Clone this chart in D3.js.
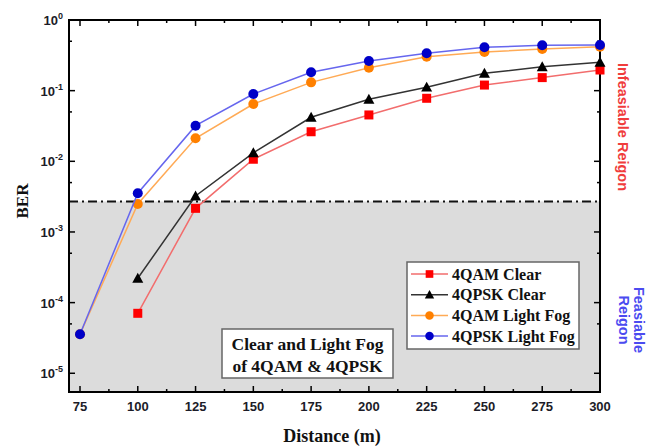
<!DOCTYPE html>
<html>
<head>
<meta charset="UTF-8">
<script src="https://cdn.jsdelivr.net/npm/d3@7"></script>
<style>
  body { margin: 0; background: #fff; }
  .tick-lab { font-family: "Liberation Sans", Arial, sans-serif; font-weight: bold; fill: #1c1c28; }
  .serif { font-family: "Liberation Serif", "Times New Roman", serif; font-weight: bold; fill: #111; }
</style>
</head>
<body>
<svg id="chart" width="646" height="448"></svg>
<script>
const distance = [75, 100, 125, 150, 175, 200, 225, 250, 275, 300];
const qamClear   = [null, 7.06e-5, 2.16e-3, 1.07e-2, 2.62e-2, 4.53e-2, 7.8e-2, 0.12, 0.153, 0.196];
const qpskClear  = [null, 2.21e-4, 3.23e-3, 1.32e-2, 4.2e-2, 7.55e-2, 0.112, 0.176, 0.218, 0.252];
const qamFog     = [3.56e-5, 2.49e-3, 2.12e-2, 6.47e-2, 0.131, 0.211, 0.303, 0.352, 0.389, 0.419];
const qpskFog    = [3.56e-5, 3.53e-3, 3.19e-2, 8.97e-2, 0.182, 0.263, 0.338, 0.411, 0.438, 0.443];
const threshold = 2.7e-3;
const yExponents = [0, -1, -2, -3, -4, -5];

const series = [
  { name: "4QAM Clear",     values: qamClear,  line: "#f26d6d", fill: "#ff0000", shape: "square" },
  { name: "4QPSK Clear",    values: qpskClear, line: "#333333", fill: "#000000", shape: "triangle" },
  { name: "4QAM Light Fog", values: qamFog,    line: "#ffaa55", fill: "#ff8000", shape: "circle" },
  { name: "4QPSK Light Fog",values: qpskFog,   line: "#6666ee", fill: "#0000c8", shape: "circle" }
];

const svg = d3.select("#chart");
const L = 69, R = 600, T = 20, B = 392;

const x = d3.scaleLinear().domain([70.24, 300]).range([L, R]);
const y = d3.scaleLog().domain([Math.pow(10, -5.265), 1]).range([B, T]);

// feasible region shading
svg.append("rect").attr("x", L).attr("y", y(threshold)).attr("width", R - L)
  .attr("height", B - y(threshold)).attr("fill", "#dcdcdc");

// threshold line
svg.append("line").attr("x1", L).attr("x2", R).attr("y1", y(threshold)).attr("y2", y(threshold))
  .attr("stroke", "#111").attr("stroke-width", 2).attr("stroke-dasharray", "9,4,2,4");

// ticks
const g = svg.append("g");
const xMinor = distance.slice(0, -1).map(d => d + 12.5);
distance.forEach(d => {
  g.append("line").attr("x1", x(d)).attr("x2", x(d)).attr("y1", B).attr("y2", B - 6).attr("stroke", "#000").attr("stroke-width", 1.5);
  g.append("line").attr("x1", x(d)).attr("x2", x(d)).attr("y1", T).attr("y2", T + 6).attr("stroke", "#000").attr("stroke-width", 1.5);
  g.append("text").attr("class", "tick-lab").attr("x", x(d)).attr("y", 411)
    .attr("text-anchor", "middle").attr("font-size", 13).text(d);
});
xMinor.forEach(d => {
  g.append("line").attr("x1", x(d)).attr("x2", x(d)).attr("y1", B).attr("y2", B - 3).attr("stroke", "#000").attr("stroke-width", 1.5);
  g.append("line").attr("x1", x(d)).attr("x2", x(d)).attr("y1", T).attr("y2", T + 3).attr("stroke", "#000").attr("stroke-width", 1.5);
});
yExponents.forEach(e => {
  const v = Math.pow(10, e);
  g.append("line").attr("x1", L).attr("x2", L + 6).attr("y1", y(v)).attr("y2", y(v)).attr("stroke", "#000").attr("stroke-width", 1.5);
  g.append("line").attr("x1", R).attr("x2", R - 6).attr("y1", y(v)).attr("y2", y(v)).attr("stroke", "#000").attr("stroke-width", 1.5);
  const m = v * 0.5;
  if (y(m) < B) {
    g.append("line").attr("x1", L).attr("x2", L + 3).attr("y1", y(m)).attr("y2", y(m)).attr("stroke", "#000").attr("stroke-width", 1.5);
    g.append("line").attr("x1", R).attr("x2", R - 3).attr("y1", y(m)).attr("y2", y(m)).attr("stroke", "#000").attr("stroke-width", 1.5);
  }
  const t = g.append("text").attr("class", "tick-lab").attr("x", 63).attr("y", y(v) + 5)
    .attr("text-anchor", "end").attr("font-size", 13);
  t.append("tspan").text("10");
  t.append("tspan").attr("dy", -6).attr("font-size", 9).text(e === 0 ? "0" : "-" + Math.abs(e));
});

// frame
svg.append("rect").attr("x", L).attr("y", T).attr("width", R - L).attr("height", B - T)
  .attr("fill", "none").attr("stroke", "#000").attr("stroke-width", 2);

// lines and markers
const line = d3.line().defined(d => d[1] != null).x(d => x(d[0])).y(d => y(d[1]));
function marker(sel, s, cx, cy, scale) {
  const k = scale || 1;
  if (s.shape === "square") {
    sel.append("rect").attr("x", cx - 4.5 * k).attr("y", cy - 4.5 * k).attr("width", 9 * k).attr("height", 9 * k).attr("fill", s.fill);
  } else if (s.shape === "triangle") {
    const h = 5.5 * k;
    sel.append("path").attr("d", `M${cx},${cy - h}L${cx + h},${cy + h * 0.8}L${cx - h},${cy + h * 0.8}Z`).attr("fill", s.fill);
  } else {
    sel.append("circle").attr("cx", cx).attr("cy", cy).attr("r", 5 * k).attr("fill", s.fill);
  }
}
series.forEach(s => {
  const pts = distance.map((d, i) => [d, s.values[i]]);
  svg.append("path").datum(pts).attr("d", line).attr("fill", "none").attr("stroke", s.line).attr("stroke-width", 1.5);
  const mg = svg.append("g");
  pts.filter(p => p[1] != null).forEach(p => marker(mg, s, x(p[0]), y(p[1])));
});

// legend
const lg = svg.append("g");
lg.append("rect").attr("x", 407).attr("y", 262).attr("width", 172).attr("height", 87)
  .attr("fill", "#fff").attr("stroke", "#666").attr("stroke-width", 1.5);
series.forEach((s, i) => {
  const cy = 274 + i * 20.7;
  lg.append("line").attr("x1", 411).attr("x2", 448).attr("y1", cy).attr("y2", cy).attr("stroke", s.line).attr("stroke-width", 1.5);
  marker(lg, s, 429.5, cy, 0.85);
  lg.append("text").attr("class", "serif").attr("x", 452).attr("y", cy + 5.5).attr("font-size", 16).text(s.name);
});

// annotation box
const ab = svg.append("g");
ab.append("rect").attr("x", 222).attr("y", 329).attr("width", 171).attr("height", 49)
  .attr("fill", "#fff").attr("stroke", "#666").attr("stroke-width", 1.5);
ab.append("text").attr("class", "serif").attr("x", 307.5).attr("y", 350).attr("text-anchor", "middle").attr("font-size", 17.5).text("Clear and Light Fog");
ab.append("text").attr("class", "serif").attr("x", 307.5).attr("y", 372).attr("text-anchor", "middle").attr("font-size", 17.5).text("of 4QAM & 4QPSK");

// axis titles
svg.append("text").attr("class", "serif").attr("transform", "translate(28,201) rotate(-90)")
  .attr("text-anchor", "middle").attr("font-size", 17).text("BER");
svg.append("text").attr("class", "serif").attr("x", 332).attr("y", 442)
  .attr("text-anchor", "middle").attr("font-size", 18).text("Distance (m)");

// region labels
svg.append("text").attr("transform", "translate(618,127) rotate(90)")
  .attr("text-anchor", "middle").attr("font-family", "Liberation Sans, Arial, sans-serif")
  .attr("font-weight", "bold").attr("font-size", 14.5).attr("fill", "#f03c3c").text("Infeasiable Reigon");
const fr = svg.append("text").attr("transform", "translate(619,320) rotate(90)")
  .attr("text-anchor", "middle").attr("font-family", "Liberation Sans, Arial, sans-serif")
  .attr("font-weight", "bold").attr("font-size", 14.5).attr("fill", "#4b4bf0");
fr.append("tspan").attr("x", 0).attr("y", -15).text("Feasiable");
fr.append("tspan").attr("x", 0).attr("y", 0).text("Reigon");
</script>
</body>
</html>
